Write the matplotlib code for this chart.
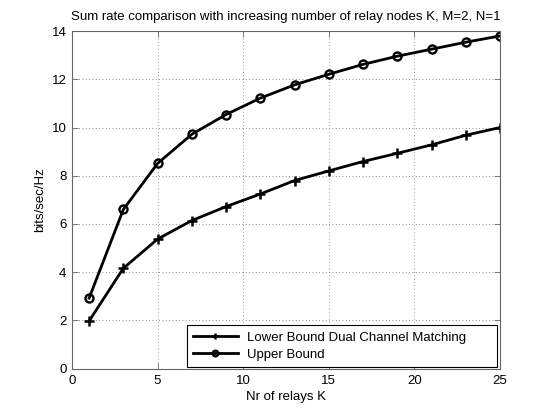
import matplotlib
matplotlib.use("Agg")
import matplotlib.pyplot as plt

K = [1, 3, 5, 7, 9, 11, 13, 15, 17, 19, 21, 23, 25]
lower = [1.97, 4.16, 5.37, 6.14, 6.72, 7.24, 7.80, 8.20, 8.59, 8.93, 9.28, 9.68, 10.0]
upper = [2.92, 6.60, 8.51, 9.72, 10.54, 11.22, 11.77, 12.21, 12.62, 12.96, 13.25, 13.54, 13.80]
xticks = [0, 5, 10, 15, 20, 25]
yticks = [0, 2, 4, 6, 8, 10, 12, 14]

plt.rcParams['font.family'] = ['Liberation Sans', 'DejaVu Sans']
fs = 9.5
fig = plt.figure(figsize=(5.52, 4.15), dpi=100)
ax = fig.add_axes([0.1304, 0.112, 0.7754, 0.813])

ax.plot(K, lower, color='black', lw=2.0, marker='+', ms=6.5, mew=1.8,
        label='Lower Bound Dual Channel Matching')
ax.plot(K, upper, color='black', lw=2.0, marker='o', ms=5.8, mew=1.7,
        mfc='none', label='Upper Bound')

ax.set_xlim(0, 25)
ax.set_ylim(0, 14)
ax.set_xticks(xticks)
ax.set_yticks(yticks)
ax.grid(True, linestyle=(0, (1, 3)), color='0.45', lw=0.6)
ax.tick_params(axis='both', direction='in', top=True, right=True, labelsize=fs,
               length=4, width=0.6, color='0.4')
ax.tick_params(axis='x', pad=5)
ax.tick_params(axis='y', pad=4)
for s in ax.spines.values():
    s.set_linewidth(0.8)
    s.set_color('0.4')
ax.set_xlabel('Nr of relays K', fontsize=fs, labelpad=2.5)
ax.set_ylabel('bits/sec/Hz', fontsize=fs, labelpad=4)
ax.set_title('Sum rate comparison with increasing number of relay nodes K, M=2, N=1',
             fontsize=fs, pad=8)
leg = ax.legend(loc='lower left', bbox_to_anchor=(0.2687, 0.0044, 0.7243, 0.1244),
                mode='expand', fontsize=fs, fancybox=False, framealpha=1,
                edgecolor='black', borderaxespad=0.0, handlelength=3.4,
                handletextpad=0.7, markerscale=0.7, numpoints=1,
                borderpad=0.45, labelspacing=0.4)
leg.get_frame().set_linewidth(0.8)

fig.savefig('out.png', dpi=100)
